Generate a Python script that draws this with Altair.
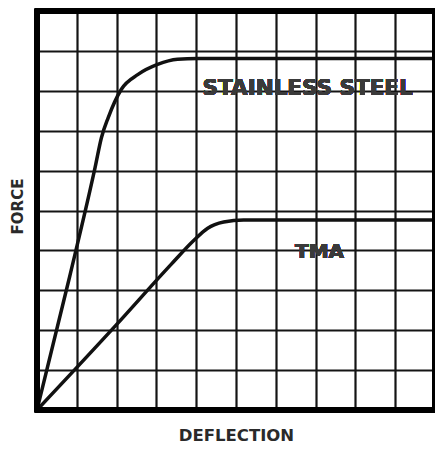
import altair as alt
import pandas as pd

# Stainless steel curve (deflection, force) in grid units
steel_x = [0, 0.82, 1.46, 1.62, 1.79, 2.12, 2.54, 3.03, 3.53, 4.03, 10]
steel_y = [0, 3.34, 6.08, 6.83, 7.33, 8.04, 8.41, 8.66, 8.79, 8.81, 8.81]

# TMA curve
tma_x = [0, 1.98, 3.37, 3.95, 4.28, 4.69, 5.19, 10]
tma_y = [0, 2.12, 3.65, 4.26, 4.55, 4.71, 4.76, 4.76]

grid_ticks = list(range(0, 11))

df = pd.concat([
    pd.DataFrame({"deflection": steel_x, "force": steel_y, "series": "STAINLESS STEEL",
                  "order": range(len(steel_x))}),
    pd.DataFrame({"deflection": tma_x, "force": tma_y, "series": "TMA",
                  "order": range(len(tma_x))}),
])

xscale = alt.Scale(domain=[0, 10], nice=False, zero=False)
yscale = alt.Scale(domain=[0, 10], nice=False, zero=False)

xaxis = alt.Axis(values=grid_ticks, grid=True, gridColor="#141414", gridWidth=2.2, gridOpacity=1,
                 labels=False, ticks=False, domain=False, title="DEFLECTION",
                 titleFont="DejaVu Sans", titleFontSize=16.5, titleFontWeight="bold",
                 titleColor="#2a2a2a", titleBaseline="middle", titleY=25)
yaxis = alt.Axis(values=grid_ticks, grid=True, gridColor="#141414", gridWidth=2.2, gridOpacity=1,
                 labels=False, ticks=False, domain=False, title="FORCE",
                 titleFont="DejaVu Sans", titleFontSize=15, titleFontWeight="bold",
                 titleColor="#2a2a2a", titleBaseline="middle", titleAngle=270,
                 titleX=-19.5, titleY=195, titleAlign="center")

lines = alt.Chart(df).mark_line(color="#111111", strokeWidth=3.5, interpolate="monotone").encode(
    x=alt.X("deflection:Q", scale=xscale, axis=xaxis),
    y=alt.Y("force:Q", scale=yscale, axis=yaxis),
    detail="series:N",
    order="order:Q",
)

border = alt.Chart(df).mark_rect(filled=False, stroke="#000000", strokeWidth=4.5).encode(
    x=alt.X(datum=0, scale=xscale, axis=xaxis), x2=alt.X2(datum=10),
    y=alt.Y(datum=0, scale=yscale, axis=yaxis), y2=alt.Y2(datum=10),
)

steel_label = alt.Chart(df).mark_text(
    text="STAINLESS STEEL", font="DejaVu Sans", fontSize=21.5, fontWeight="bold",
    color="#3a3a3a", align="center", baseline="middle"
).encode(x=alt.X(datum=6.8, scale=xscale, axis=xaxis),
         y=alt.Y(datum=8.05, scale=yscale, axis=yaxis))

tma_label = alt.Chart(df).mark_text(
    text="TMA", font="DejaVu Sans", fontSize=20, fontWeight="bold",
    color="#3a3a3a", align="center", baseline="middle"
).encode(x=alt.X(datum=7.1, scale=xscale, axis=xaxis),
         y=alt.Y(datum=3.95, scale=yscale, axis=yaxis))

chart = alt.layer(lines, border, steel_label, tma_label).properties(
    width=398, height=399,
    autosize=alt.AutoSizeParams(type="none"),
    padding={"left": 29, "top": 3, "right": 0, "bottom": 34},
).configure_view(stroke=None).configure(background="white")

chart.save("out.html", embed_options={"renderer": "svg", "actions": False})
